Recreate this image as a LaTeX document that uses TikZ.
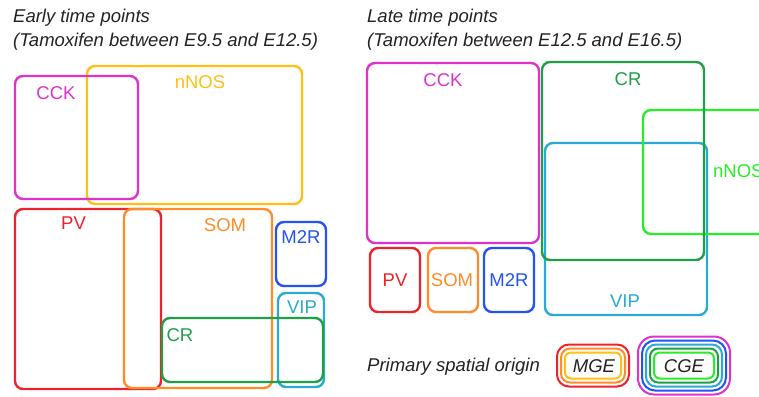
\documentclass[tikz,border=0pt]{standalone}
\usepackage{fontspec}
\setmainfont{Liberation Sans}
\usepackage{tikz}
\definecolor{cckmag}{RGB}{221,51,204}
\definecolor{nosyel}{RGB}{255,192,20}
\definecolor{pvred}{RGB}{238,34,44}
\definecolor{somor}{RGB}{255,140,40}
\definecolor{mtrblue}{RGB}{34,84,240}
\definecolor{vipteal}{RGB}{40,170,210}
\definecolor{crgreen}{RGB}{30,160,70}
\definecolor{nosgreen}{RGB}{40,238,40}
\definecolor{inkgray}{RGB}{35,35,35}
\tikzstyle{cellbox} = [rectangle, rounded corners=8pt, line width=2.4pt, inner sep=0pt]
\tikzstyle{celltext} = [font=\fontsize{18.5}{22}\selectfont, inner sep=0pt, anchor=base]
\tikzstyle{titletext} = [font=\fontsize{18.5}{22}\selectfont\itshape, text=inkgray, inner sep=0pt, anchor=base west]
\tikzstyle{ring} = [rectangle, line width=2pt, inner sep=0pt]

\begin{document}
\begin{tikzpicture}[x=1pt,y=-1pt]
\clip (0,0) rectangle (759,396);
\fill[white] (0,0) rectangle (759,396);

% Titles
\node[titletext] (etitle1) at (13,23) {Early time points};
\node[titletext] (etitle2) at (13,46) {(Tamoxifen between E9.5 and E12.5)};
\node[titletext] (ltitle1) at (367,23) {Late time points};
\node[titletext] (ltitle2) at (367,46) {(Tamoxifen between E12.5 and E16.5)};

% Early time points
\node[cellbox, draw=nosyel, minimum width=215pt, minimum height=138pt] (eNNOS) at (194.5,135) {};
\node[cellbox, draw=cckmag, minimum width=123pt, minimum height=123pt] (eCCK) at (76.5,137.5) {};
\node[cellbox, draw=pvred, minimum width=146pt, minimum height=180pt] (ePV) at (88,299) {};
\node[cellbox, draw=somor, minimum width=148pt, minimum height=179pt] (eSOM) at (198,298.5) {};
\node[cellbox, draw=mtrblue, minimum width=50pt, minimum height=64pt] (eM2R) at (301,254) {};
\node[cellbox, draw=vipteal, minimum width=46pt, minimum height=94pt] (eVIP) at (301,340) {};
\node[cellbox, draw=crgreen, minimum width=161pt, minimum height=64pt] (eCR) at (242.5,350) {};

\node[celltext, text=cckmag] (eCCKl) at (56,99) {CCK};
\node[celltext, text=nosyel] (eNNOSl) at (200,88) {nNOS};
\node[celltext, text=pvred] (ePVl) at (73.5,229) {PV};
\node[celltext, text=somor] (eSOMl) at (225,231) {SOM};
\node[celltext, text=mtrblue] (eM2Rl) at (301,243) {M2R};
\node[celltext, text=vipteal] (eVIPl) at (302,313) {VIP};
\node[celltext, text=crgreen] (eCRl) at (180,341) {CR};

% Late time points
\node[cellbox, draw=cckmag, minimum width=172pt, minimum height=180pt] (lCCK) at (453,153) {};
\node[cellbox, draw=vipteal, minimum width=162pt, minimum height=172pt] (lVIP) at (626,229) {};
\node[cellbox, draw=nosgreen, minimum width=157pt, minimum height=124pt] (lNNOS) at (721.5,172) {};
\node[cellbox, draw=crgreen, minimum width=162pt, minimum height=198pt] (lCR) at (623,161) {};
\node[cellbox, draw=pvred, minimum width=50pt, minimum height=64pt] (lPV) at (395,280) {};
\node[cellbox, draw=somor, minimum width=50pt, minimum height=64pt] (lSOM) at (453,280) {};
\node[cellbox, draw=mtrblue, minimum width=50pt, minimum height=64pt] (lM2R) at (509,280) {};

\node[celltext, text=cckmag] (lCCKl) at (443,86) {CCK};
\node[celltext, text=crgreen] (lCRl) at (628,85) {CR};
\node[celltext, text=nosgreen, anchor=base west] (lNNOSl) at (713,177) {nNOS};
\node[celltext, text=vipteal] (lVIPl) at (625,307) {VIP};
\node[celltext, text=pvred] (lPVl) at (395,286) {PV};
\node[celltext, text=somor] (lSOMl) at (452,286) {SOM};
\node[celltext, text=mtrblue] (lM2Rl) at (509,286) {M2R};

% Primary spatial origin
\node[titletext] (origin) at (367,371) {Primary spatial origin};

\node[ring, draw=pvred, minimum width=72pt, minimum height=42pt, rounded corners=12pt] (mge1) at (593,365.5) {};
\node[ring, draw=somor, minimum width=64pt, minimum height=34pt, rounded corners=9pt] (mge2) at (593,365.5) {};
\node[ring, draw=nosyel, minimum width=56pt, minimum height=26pt, rounded corners=6pt] (mge3) at (593,365.5) {};
\node[celltext, text=inkgray, font=\fontsize{18.5}{22}\selectfont\itshape] (mgel) at (594,372) {MGE};

\node[ring, draw=cckmag, minimum width=92pt, minimum height=58pt, rounded corners=16pt] (cge1) at (684,365.5) {};
\node[ring, draw=mtrblue, minimum width=84pt, minimum height=50pt, rounded corners=13pt] (cge2) at (684,365.5) {};
\node[ring, draw=vipteal, minimum width=76pt, minimum height=42pt, rounded corners=10pt] (cge3) at (684,365.5) {};
\node[ring, draw=crgreen, minimum width=68pt, minimum height=34pt, rounded corners=8pt] (cge4) at (684,365.5) {};
\node[ring, draw=nosgreen, minimum width=60pt, minimum height=26pt, rounded corners=6pt] (cge5) at (684,365.5) {};
\node[celltext, text=inkgray, font=\fontsize{18.5}{22}\selectfont\itshape] (cgel) at (684,372) {CGE};
\end{tikzpicture}
\end{document}
